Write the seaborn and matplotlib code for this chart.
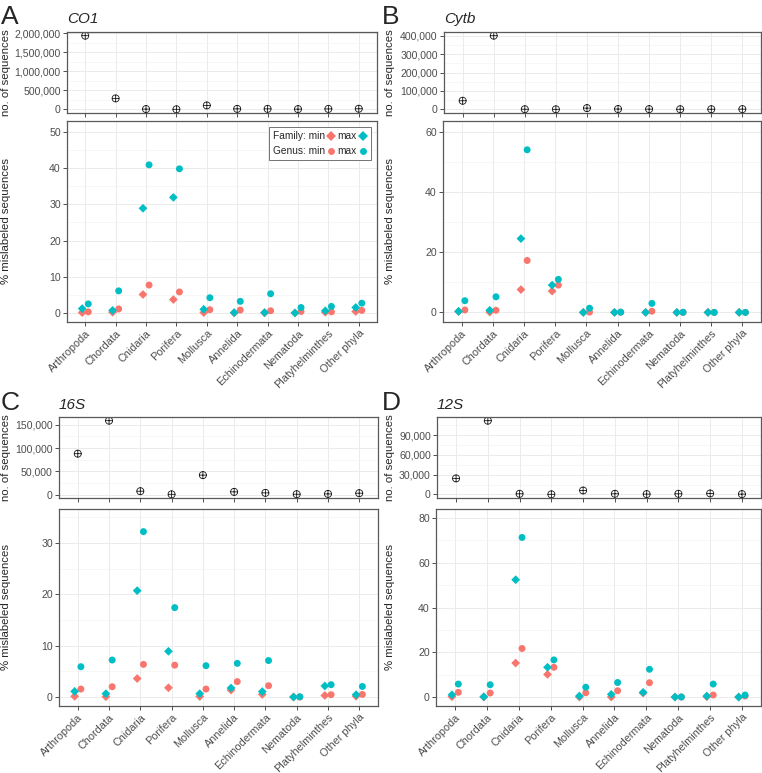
import numpy as np
import pandas as pd
import seaborn as sns
import matplotlib.pyplot as plt
from matplotlib.lines import Line2D
from matplotlib.path import Path
from matplotlib.ticker import FuncFormatter, MultipleLocator

sns.set_style("whitegrid")
plt.rcParams["font.family"] = ["Liberation Sans", "DejaVu Sans"]

# ===================== DATA =====================
phyla = ["Arthropoda", "Chordata", "Cnidaria", "Porifera", "Mollusca",
         "Annelida", "Echinodermata", "Nematoda", "Platyhelminthes", "Other phyla"]

# CO1
co1_counts  = [1940000, 290000, 9000, 3000, 105000, 15000, 15000, 8000, 14000, 18000]
co1_fam_min = [0.1, 0.2, 5.1, 3.7, 0.1, 0.0, 0.0, 0.0, 0.2, 0.4]
co1_fam_max = [1.2, 0.7, 28.9, 31.9, 1.0, 0.1, 0.1, 0.0, 0.6, 1.5]
co1_gen_min = [0.3, 1.1, 7.7, 5.8, 0.9, 0.8, 0.6, 0.4, 0.3, 0.7]
co1_gen_max = [2.5, 6.1, 40.9, 39.8, 4.2, 3.2, 5.3, 1.5, 1.8, 2.7]

# Cytb
cytb_counts  = [47000, 400000, 1000, 500, 7000, 2000, 1500, 1000, 1000, 1500]
cytb_fam_min = [0.3, 0.1, 7.6, 7.1, 0.0, 0.0, 0.0, 0.0, 0.0, 0.0]
cytb_fam_max = [0.35, 0.7, 24.6, 9.1, 0.0, 0.0, 0.0, 0.0, 0.0, 0.0]
cytb_gen_min = [0.8, 0.7, 17.3, 9.1, 0.1, 0.05, 0.4, 0.0, 0.0, 0.0]
cytb_gen_max = [3.9, 5.2, 54.2, 11.0, 1.4, 0.1, 3.0, 0.05, 0.0, 0.0]

# 16S
s16_counts  = [88000, 159000, 7200, 500, 41800, 5800, 3600, 700, 1400, 2900]
s16_fam_min = [0.13, 0.05, 3.6, 1.8, 0.1, 1.35, 0.5, 0.0, 0.3, 0.15]
s16_fam_max = [1.1, 0.65, 20.7, 8.9, 0.65, 1.75, 1.05, 0.0, 2.15, 0.45]
s16_gen_min = [1.55, 2.0, 6.35, 6.2, 1.55, 3.0, 2.2, 0.0, 0.45, 0.5]
s16_gen_max = [5.9, 7.2, 32.2, 17.4, 6.1, 6.55, 7.1, 0.05, 2.4, 2.05]

# 12S
s12_counts  = [24300, 111700, 1000, 200, 6000, 1000, 500, 1000, 1500, 500]
s12_fam_min = [0.15, 0.0, 15.2, 10.1, 0.0, 0.0, 1.8, 0.0, 0.15, 0.0]
s12_fam_max = [1.0, 0.15, 52.4, 13.3, 0.45, 1.2, 2.1, 0.0, 0.45, 0.0]
s12_gen_min = [2.1, 1.8, 21.7, 13.3, 1.9, 2.8, 6.4, 0.0, 0.9, 0.45]
s12_gen_max = [5.8, 5.5, 71.3, 16.6, 4.4, 6.5, 12.4, 0.05, 5.8, 0.9]

RED, TEAL = "#F8766D", "#00BFC4"
W, H = 762, 773

# crossed circle marker (ggplot shape 10)
circ = Path.circle((0, 0), 1)
oplus = Path.make_compound_path(circ, Path([[-1, 0], [1, 0]]), Path([[0, -1], [0, 1]]))


def rect(l, t, r, b):
    return [l / W, 1 - b / H, (r - l) / W, (b - t) / H]


def style_axes(ax):
    ax.set_xlim(-0.6, 9.6)
    ax.set_xlabel("")
    ax.set_ylabel("")
    ax.grid(which="major", color="#EBEBEB", linewidth=0.7)
    ax.grid(which="minor", axis="y", color="#F2F2F2", linewidth=0.4)
    ax.tick_params(which="major", bottom=True, left=True, length=3, width=0.6,
                   color="0.2", labelcolor="0.3", labelsize=7.6, pad=1.5)
    ax.tick_params(which="minor", length=0)
    for sp in ax.spines.values():
        sp.set_color("0.35")
        sp.set_linewidth(0.9)


def draw_panel(letter, gene, counts, fam_min, fam_max, gen_min, gen_max,
               top_rect, bot_rect, cstep, pstep, plim, ylab_x, legend=False):
    # ---- counts ----
    ax1 = fig.add_axes(rect(*top_rect))
    cdf = pd.DataFrame({"x": np.arange(len(phyla)), "n": counts})
    sns.scatterplot(data=cdf, x="x", y="n", marker=oplus, s=26, facecolors="none",
                    edgecolor="0.1", linewidth=0.6, ax=ax1)
    style_axes(ax1)
    ax1.set_xticks(range(len(phyla)))
    ax1.tick_params(labelbottom=False)
    ax1.yaxis.set_major_locator(MultipleLocator(cstep))
    ax1.yaxis.set_minor_locator(MultipleLocator(cstep / 2))
    ax1.yaxis.set_major_formatter(FuncFormatter(lambda v, _: f"{int(round(v)):,}"))
    ax1.margins(y=0.05)

    # ---- mislabel percentages ----
    ax2 = fig.add_axes(rect(*bot_rect))
    rows = []
    for stat, rank, vals in [("min", "Family", fam_min), ("min", "Genus", gen_min),
                             ("max", "Family", fam_max), ("max", "Genus", gen_max)]:
        for i, p in enumerate(phyla):
            rows.append({"phylum": p, "stat": stat, "rank": rank, "pct": vals[i]})
    df = pd.DataFrame(rows)
    pos = {p: i for i, p in enumerate(phyla)}
    df["x"] = df["phylum"].map(pos) + df["rank"].map({"Family": -0.1, "Genus": 0.1})
    sns.scatterplot(data=df, x="x", y="pct", hue="stat", hue_order=["min", "max"],
                    palette={"min": RED, "max": TEAL}, style="rank",
                    markers={"Family": "D", "Genus": "o"},
                    size="rank", sizes={"Family": 20, "Genus": 25},
                    linewidth=0, legend=False, ax=ax2)
    style_axes(ax2)
    ax2.set_xticks(range(len(phyla)))
    ax2.set_xticklabels(phyla, rotation=45, ha="right", rotation_mode="anchor", fontsize=7.8)
    ax2.yaxis.set_major_locator(MultipleLocator(pstep))
    ax2.yaxis.set_minor_locator(MultipleLocator(pstep / 2))
    ax2.set_ylim(*plim)

    if legend:
        h = [Line2D([], [], ls="", marker="D", ms=4.6, color=RED, mew=0),
             Line2D([], [], ls="", marker="o", ms=5, color=RED, mew=0),
             Line2D([], [], ls="", marker="D", ms=4.6, color=TEAL, mew=0),
             Line2D([], [], ls="", marker="o", ms=5, color=TEAL, mew=0)]
        leg = ax2.legend(h, ["Family: min", "Genus: min", "max", "max"], ncol=2,
                         markerfirst=False, loc="upper right", fontsize=7.3,
                         handlelength=0.8, handletextpad=0.2, columnspacing=0.2,
                         borderpad=0.4, labelspacing=0.5, borderaxespad=0.6,
                         fancybox=False, framealpha=1, edgecolor="0.45")
        leg.get_frame().set_linewidth(0.7)

    # ---- text ----
    fig.text(letter[1] / W, 1 - letter[2] / H, letter[0], fontsize=19, va="baseline")
    fig.text(top_rect[0] / W, 1 - (letter[2] - 1) / H, gene, fontsize=11,
             style="italic", va="baseline")
    fig.text(ylab_x / W, 1 - (top_rect[1] + top_rect[3]) / 2 / H, "no. of sequences",
             rotation=90, ha="center", va="center", fontsize=8.2)
    fig.text(ylab_x / W, 1 - (bot_rect[1] + bot_rect[3]) / 2 / H, "% mislabeled sequences",
             rotation=90, ha="center", va="center", fontsize=8.2)


# ===================== FIGURE =====================
fig = plt.figure(figsize=(W / 100, H / 100), dpi=100)

draw_panel(("A", 1, 24), "CO1", co1_counts, co1_fam_min, co1_fam_max, co1_gen_min, co1_gen_max,
           (67, 32, 377, 113), (67, 121, 377, 322), 500000, 10, (-2.5, 53), 6, legend=True)
draw_panel(("B", 382, 24), "Cytb", cytb_counts, cytb_fam_min, cytb_fam_max, cytb_gen_min, cytb_gen_max,
           (444, 32, 761, 113), (443, 121, 761, 322), 100000, 20, (-3.2, 63.8), 390)
draw_panel(("C", 1, 410), "16S", s16_counts, s16_fam_min, s16_fam_max, s16_gen_min, s16_gen_max,
           (59, 417, 378, 498), (59, 509, 378, 706), 50000, 10, (-1.75, 36.6), 6)
draw_panel(("D", 382, 410), "12S", s12_counts, s12_fam_min, s12_fam_max, s12_gen_min, s12_gen_max,
           (437, 417, 761, 498), (436, 509, 761, 706), 30000, 20, (-4, 84), 390)

fig.savefig("out.png", dpi=100)
